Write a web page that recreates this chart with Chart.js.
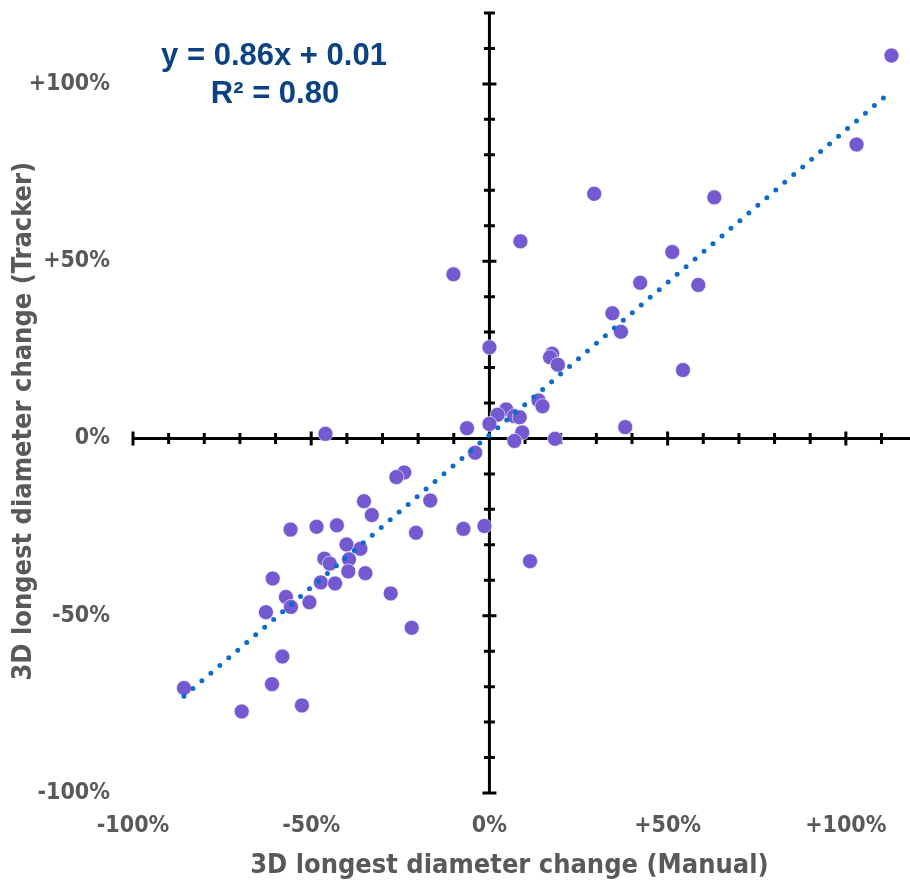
<!DOCTYPE html>
<html>
<head>
<meta charset="utf-8">
<script src="https://cdn.jsdelivr.net/npm/chart.js@4"></script>
<style>
  html, body { margin: 0; padding: 0; background: #fff; }
  #wrap { width: 910px; height: 885px; }
</style>
</head>
<body>
<div id="wrap"><canvas id="myChart"></canvas></div>
<script>
// values, in percent
var manualX = [112.8, 103.0, 29.4, 63.1, 8.7, 51.3, -10.1, 42.3, 58.6, 34.5, 36.9, 0.0, 17.6, 17.0, 19.2, 54.3,
  13.8, 14.9, 4.7, 2.3, 7.0, 8.5, 0.0, 38.1, -6.3, 9.2, -46.0, 18.4, 7.0, -4.0, -23.9, -26.1, -16.6, -35.2,
  -33.0, -42.8, -1.4, -48.5, -7.3, -55.8, -20.6, -40.1, -36.2, -46.3, -39.4, 11.4, -44.8, -39.6, -34.8,
  -60.8, -47.3, -43.3, -27.7, -57.1, -50.5, -55.7, -62.7, -21.8, -58.1, -61.0, -85.7, -52.6, -69.5];
var trackerY = [108.0, 82.9, 69.0, 68.0, 55.6, 52.6, 46.3, 43.9, 43.3, 35.3, 30.1, 25.7, 23.9, 22.9, 20.8, 19.3,
  10.7, 9.1, 8.2, 6.7, 6.3, 6.0, 4.1, 3.2, 2.9, 1.7, 1.3, -0.1, -0.7, -4.0, -9.6, -10.9, -17.5, -17.7,
  -21.6, -24.5, -24.7, -24.9, -25.5, -25.7, -26.6, -29.9, -31.1, -33.9, -34.1, -34.6, -35.3, -37.5, -38.0,
  -39.5, -40.6, -40.9, -43.7, -44.7, -46.2, -47.5, -49.0, -53.4, -61.5, -69.3, -70.4, -75.3, -77.0];
// trendline ends
var trendX = [-85.7, 112.8];
var trendY = [-72.7, 98.0];
var tickValues = [-100, -50, 0, 50, 100];
var equationLines = ['y = 0.86x + 0.01', 'R\u00b2 = 0.80'];

var gray = '#595959';
var family = "'DejaVu Sans Condensed', 'Liberation Sans', sans-serif";
var labelFont = { family: family, size: 23, weight: 'bold' };
var titleFont = { family: family, size: 27, weight: 'bold' };

function pct(v) {
  return (v > 0 ? '+' : '') + v + '%';
}

var points = manualX.map(function (x, i) { return { x: x, y: trackerY[i] }; });
var trend = trendX.map(function (x, i) { return { x: x, y: trendY[i] }; });

// axes crossing at zero, drawn under the points
var crossAxes = {
  id: 'crossAxes',
  beforeDatasetsDraw: function (chart) {
    var ctx = chart.ctx, xs = chart.scales.x, ys = chart.scales.y;
    var x0 = xs.getPixelForValue(0), y0 = ys.getPixelForValue(0);
    ctx.save();
    ctx.strokeStyle = '#000';
    ctx.lineWidth = 3;
    ctx.beginPath();
    ctx.moveTo(xs.left, y0); ctx.lineTo(xs.right, y0);
    ctx.moveTo(x0, ys.top); ctx.lineTo(x0, ys.bottom);
    for (var v = -100; v <= 110; v += 10) {
      var px = xs.getPixelForValue(v);
      var len = v % 50 === 0 ? 7 : 5.5;
      ctx.moveTo(px, y0 - len); ctx.lineTo(px, y0 + len);
    }
    for (var w = -100; w <= 120; w += 10) {
      var py = ys.getPixelForValue(w);
      var l = w % 50 === 0 ? 7 : 5.5;
      ctx.moveTo(x0 - l, py); ctx.lineTo(x0 + l, py);
    }
    ctx.stroke();
    ctx.restore();
  }
};

var equation = {
  id: 'equation',
  afterDraw: function (chart) {
    var ctx = chart.ctx;
    ctx.save();
    ctx.fillStyle = '#0b4382';
    ctx.font = "bold 31px 'Liberation Sans', Arial, sans-serif";
    ctx.textAlign = 'center';
    ctx.textBaseline = 'middle';
    ctx.fillText(equationLines[0], 274, 56);
    ctx.fillText(equationLines[1], 275, 94);
    ctx.restore();
  }
};

var ctx = document.getElementById('myChart').getContext('2d');
var chart = new Chart(ctx, {
  type: 'scatter',
  data: {
    datasets: [{
        label: 'Trend',
        type: 'line',
        data: trend,
        borderColor: '#0a6ccc',
        borderWidth: 5,
        borderDash: [0, 11.8],
        borderCapStyle: 'round',
        pointRadius: 0,
        fill: false
      },
      {
        label: 'Lesions',
        data: points,
        backgroundColor: '#7459d0',
        borderColor: 'rgba(255, 255, 255, 0.6)',
        borderWidth: 1,
        pointRadius: 7.5,
        pointHoverRadius: 7.5
      }
    ]
  },
  options: {
    responsive: true,
    maintainAspectRatio: false,
    animation: false,
    layout: { autoPadding: false, padding: { top: 13, right: 0, left: 0, bottom: 0 } },
    plugins: {
      legend: { display: false },
      tooltip: { enabled: false }
    },
    scales: {
      x: {
        type: 'linear',
        min: -100,
        max: 118,
        afterBuildTicks: function (s) { s.ticks = tickValues.map(function (v) { return { value: v }; }); },
        afterFit: function (s) { s.height = 92; s.paddingLeft = 0; s.paddingRight = 0; },
        grid: { display: false, drawTicks: false },
        border: { display: false },
        ticks: { callback: pct, autoSkip: false, maxRotation: 0, padding: 19, color: gray, font: labelFont },
        title: { display: true, text: '3D longest diameter change (Manual)\u2003', color: gray, font: titleFont, padding: { top: 0, bottom: 3 } }
      },
      y: {
        type: 'linear',
        min: -100,
        max: 120,
        afterBuildTicks: function (s) { s.ticks = tickValues.map(function (v) { return { value: v }; }); },
        afterFit: function (s) { s.width = 133; s.paddingTop = 0; s.paddingBottom = 0; },
        grid: { display: false, drawTicks: false },
        border: { display: false },
        ticks: { callback: pct, autoSkip: false, padding: 23, color: gray, font: labelFont },
        title: { display: true, text: '3D longest diameter change (Tracker)\u2003\u2002', color: gray, font: titleFont, padding: { top: 8, bottom: 0 } }
      }
    }
  },
  plugins: [crossAxes, equation]
});
</script>
</body>
</html>
